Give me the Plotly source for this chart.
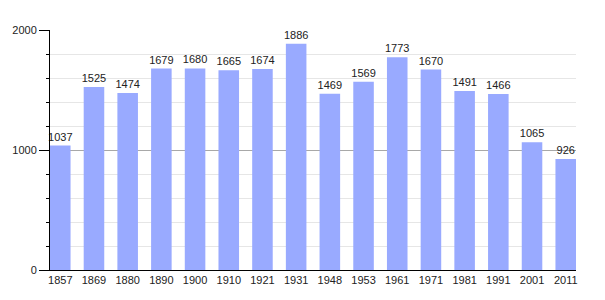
import plotly.graph_objects as go

years = ["1857", "1869", "1880", "1890", "1900", "1910", "1921", "1931",
         "1948", "1953", "1961", "1971", "1981", "1991", "2001", "2011"]
population = [1037, 1525, 1474, 1679, 1680, 1665, 1674, 1886,
              1469, 1569, 1773, 1670, 1491, 1466, 1065, 926]

font = "Liberation Sans, Arial, sans-serif"

fig = go.Figure(go.Bar(
    x=years, y=population,
    marker=dict(color="#99aaff", line=dict(width=0)),
    text=[str(v) for v in population],
    textposition="outside",
    textangle=0,
    constraintext="none",
    textfont=dict(family=font, size=11, color="#222"),
    cliponaxis=False,
))

fig.update_layout(
    width=605, height=300,
    margin=dict(l=50, r=29, t=30, b=30),
    paper_bgcolor="white", plot_bgcolor="white",
    bargap=0.39,
    showlegend=False,
    font=dict(family=font, size=11, color="#222"),
)
fig.update_xaxes(
    type="category", range=[-0.305, 15.305],
    showline=True, linecolor="black", linewidth=1,
    ticks="", showgrid=False,
    tickfont=dict(family=font, size=11, color="#222"),
)
fig.update_yaxes(
    range=[0, 2000], dtick=1000, tick0=0,
    showline=True, linecolor="black", linewidth=1,
    ticks="outside", ticklen=10, tickcolor="black",
    showgrid=True, gridcolor="#a8a8a8", gridwidth=1,
    zeroline=False,
    minor=dict(dtick=200, ticks="outside", ticklen=3, tickcolor="black",
               showgrid=True, gridcolor="#e6e6e6", gridwidth=1),
    tickfont=dict(family=font, size=11, color="#222"),
)

fig.write_html("out.html")
